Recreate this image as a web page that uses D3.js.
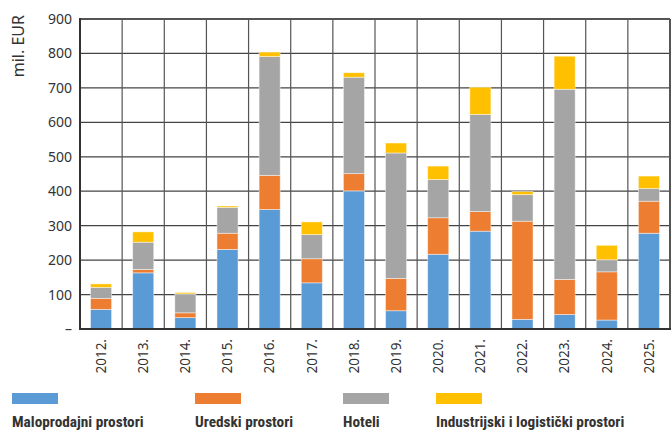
<!DOCTYPE html>
<html>
<head>
<meta charset="utf-8">
<script src="https://cdn.jsdelivr.net/npm/d3@7"></script>
<style>
  html, body { margin: 0; padding: 0; background: #fff; }
  svg { display: block; }
</style>
</head>
<body>
<svg id="chart" width="671" height="447"></svg>
<script>
// Investment volume by property type, mil. EUR
const years = ["2012.", "2013.", "2014.", "2015.", "2016.", "2017.", "2018.",
               "2019.", "2020.", "2021.", "2022.", "2023.", "2024.", "2025."];
const retail     = [57, 163, 33, 231, 347, 134, 401, 53, 217, 284, 28, 42, 26, 278];
const office     = [32, 10, 14, 47, 99, 70, 50, 94, 106, 57, 285, 102, 140, 93];
const hotels     = [32, 79, 55, 75, 345, 70, 280, 364, 111, 282, 77, 552, 35, 37];
const industrial = [10, 30, 4, 4, 13, 37, 13, 29, 39, 79, 9, 96, 42, 36];

const seriesNames  = ["Maloprodajni prostori", "Uredski prostori", "Hoteli", "Industrijski i logistički prostori"];
const seriesColors = ["#5B9BD5", "#ED7D31", "#A5A5A5", "#FFC000"];
const yTicks = [0, 100, 200, 300, 400, 500, 600, 700, 800, 900];

const rows = years.map((y, i) => ({
  year: y, s0: retail[i], s1: office[i], s2: hotels[i], s3: industrial[i]
}));
const keys = ["s0", "s1", "s2", "s3"];
const stacked = d3.stack().keys(keys)(rows);

const svg = d3.select("#chart");
const m = { left: 80, right: 670, top: 19, bottom: 329 };

const x = d3.scaleBand().domain(years).range([m.left, m.right]).paddingInner(0).paddingOuter(0);
const y = d3.scaleLinear().domain([0, 900]).range([m.bottom, m.top]);

const fontAxis = "'Noto Sans', 'Open Sans', sans-serif";

// horizontal gridlines
svg.append("g").selectAll("line").data(yTicks.filter(t => t > 0)).join("line")
  .attr("x1", m.left).attr("x2", m.right)
  .attr("y1", d => y(d)).attr("y2", d => y(d))
  .attr("stroke", d => d === 900 ? "#555" : "#444")
  .attr("stroke-width", d => d === 900 ? 2 : 1.2);

// vertical gridlines between categories
const bounds = years.map(d => x(d)).concat([m.right]);
svg.append("g").selectAll("line").data(bounds.slice(1)).join("line")
  .attr("x1", d => d).attr("x2", d => d)
  .attr("y1", m.top).attr("y2", m.bottom)
  .attr("stroke", "#555")
  .attr("stroke-width", (d, i) => i === bounds.length - 2 ? 2 : 1.2);

// stacked bars
const barW = x.bandwidth() * 0.5;
svg.append("g").selectAll("g").data(stacked).join("g")
  .attr("fill", (d, i) => seriesColors[i])
  .selectAll("rect").data(d => d).join("rect")
  .attr("x", d => x(d.data.year) + (x.bandwidth() - barW) / 2)
  .attr("width", barW)
  .attr("y", d => y(d[1]))
  .attr("height", d => y(d[0]) - y(d[1]))
  .attr("stroke", "rgba(255,255,255,0.55)")
  .attr("stroke-width", 0.8);

// axis lines
svg.append("line").attr("x1", m.left).attr("x2", m.left)
  .attr("y1", m.top - 1).attr("y2", m.bottom + 1)
  .attr("stroke", "#333").attr("stroke-width", 2);
svg.append("line").attr("x1", m.left - 1).attr("x2", m.right + 1)
  .attr("y1", m.bottom).attr("y2", m.bottom)
  .attr("stroke", "#333").attr("stroke-width", 2);

// y-axis labels
const yAxis = d3.axisLeft(y).tickValues(yTicks).tickSize(0).tickPadding(8)
  .tickFormat(d => d === 0 ? "–" : d);
const gy = svg.append("g").attr("transform", `translate(${m.left},0)`).call(yAxis);
gy.select(".domain").remove();
gy.selectAll("text").attr("font-family", fontAxis).attr("font-size", 14).attr("fill", "#333");

// x-axis labels, rotated
const xAxis = d3.axisBottom(x).tickSize(0).tickPadding(0);
const gx = svg.append("g").attr("transform", `translate(0,${m.bottom})`).call(xAxis);
gx.select(".domain").remove();
gx.selectAll("text")
  .attr("font-family", fontAxis).attr("font-size", 13.5).attr("fill", "#333")
  .attr("transform", "rotate(-90)")
  .attr("text-anchor", "end")
  .attr("x", -10).attr("y", 0).attr("dy", "0.35em");

// y-axis title
svg.append("text")
  .attr("transform", "translate(24,15) rotate(-90)")
  .attr("text-anchor", "end")
  .attr("font-family", fontAxis).attr("font-size", 16).attr("fill", "#333")
  .text("mil. EUR");

// legend
const legendX = [12, 195, 343, 436];
const lg = svg.append("g").selectAll("g").data(seriesNames).join("g")
  .attr("transform", (d, i) => `translate(${legendX[i]},393)`);
lg.append("rect").attr("width", 46).attr("height", 11).attr("fill", (d, i) => seriesColors[i]);
lg.append("text").attr("x", 0).attr("y", 34)
  .attr("font-family", "'Liberation Sans Narrow', 'Roboto Condensed', 'Roboto', sans-serif")
  .attr("font-weight", "bold").attr("font-size", 15.3).attr("fill", "#333")
  .text(d => d);
</script>
</body>
</html>
